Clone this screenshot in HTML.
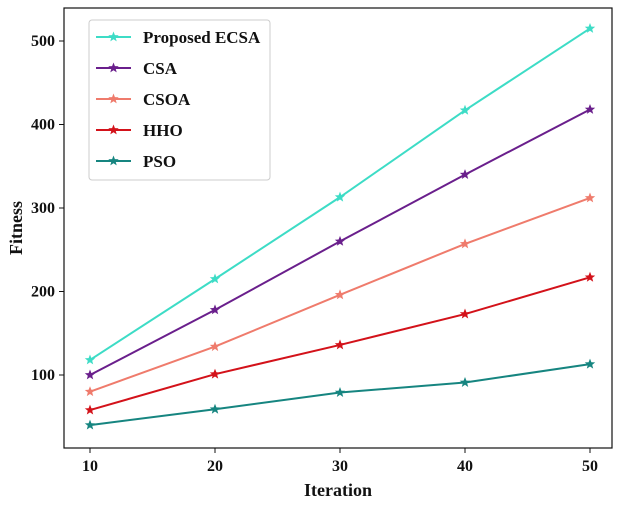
<!DOCTYPE html>
<html><head><meta charset="utf-8"><style>
body{margin:0;background:#fff}
svg text{font-family:"Liberation Serif",serif;font-weight:bold;fill:#111}
</style></head><body>
<svg width="624" height="506" xmlns="http://www.w3.org/2000/svg">
<rect x="64" y="8" width="548" height="440" fill="none" stroke="#111" stroke-width="1.2"/>
<g id="axes"></g><g id="series"></g>
<text x="338" y="496" text-anchor="middle" font-size="18">Iteration</text>
<text transform="translate(22,228) rotate(-90)" text-anchor="middle" font-size="18">Fitness</text>
<g>
<rect x="89" y="20" width="181" height="160" rx="3" fill="#fff" stroke="#ccc" stroke-width="1"/>
<g id="legend"></g>
</g>
</svg>
<script>
const iterations=[10,20,30,40,50];
const seriesNames=["Proposed ECSA","CSA","CSOA","HHO","PSO"];
const colors=["#3ddcc6","#6a1f8c","#ef7b6c","#d3121a","#168580"];
const proposed=[118,215,313,417,515];
const csa=[100,178,260,340,418];
const csoa=[80,134,196,257,312];
const hho=[58,101,136,173,217];
const pso=[40,59,79,91,113];
const yTicks=[100,200,300,400,500];
const allSeries=[proposed,csa,csoa,hho,pso];
const NS="http://www.w3.org/2000/svg";
const xs=v=>90+(v-10)*12.5;
const ys=v=>375-(v-100)*0.835;
function mk(t,a,p){const e=document.createElementNS(NS,t);for(const k in a)e.setAttribute(k,a[k]);p.appendChild(e);return e;}
function star(cx,cy,r){let p=[];for(let i=0;i<10;i++){const rr=i%2?r*0.42:r;const a=-Math.PI/2+i*Math.PI/5;p.push((cx+rr*Math.cos(a)).toFixed(1)+","+(cy+rr*Math.sin(a)).toFixed(1));}return p.join(" ");}
const ax=document.getElementById('axes');
iterations.forEach(v=>{
 const l=mk('line',{x1:xs(v),x2:xs(v),y1:448,y2:453,stroke:'#111'},ax);
 
 
 const t=mk('text',{x:xs(v),y:471,'text-anchor':'middle','font-size':'16'},ax);t.textContent=v;
 
 
});
yTicks.forEach(v=>{
 const l=mk('line',{x1:59,x2:64,y1:ys(v),y2:ys(v),stroke:'#111'},ax);
 
 
 const t=mk('text',{x:55,y:ys(v)+5,'text-anchor':'end','font-size':'16'},ax);t.textContent=v;
 
 
});
const sg=document.getElementById('series');
const lg=document.getElementById('legend');
allSeries.forEach((d,i)=>{
 const g=mk('g',{},sg);
 
 
 mk('polyline',{points:d.map((v,j)=>xs(iterations[j])+","+ys(v)).join(" "),fill:'none',stroke:colors[i],'stroke-width':2},g);
 d.forEach((v,j)=>{const s=mk('polygon',{points:star(xs(iterations[j]),ys(v),5.5),fill:colors[i]},g);
  
  });
 const y=37+i*31;
 const e=mk('g',{},lg);
 
 
 mk('line',{x1:96,x2:131,y1:y,y2:y,stroke:colors[i],'stroke-width':2},e);
 mk('polygon',{points:star(113.5,y,5.5),fill:colors[i]},e);
 const t=mk('text',{x:143,y:y+6,'font-size':'17'},e);t.textContent=seriesNames[i];
});
</script>
</body></html>
